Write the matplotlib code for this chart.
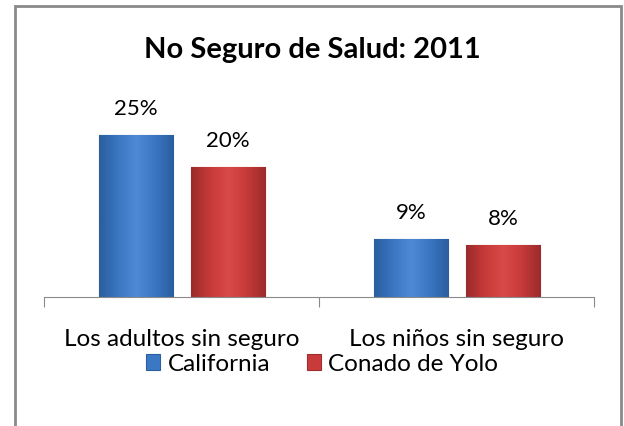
import numpy as np
import matplotlib
matplotlib.use("Agg")
import matplotlib.pyplot as plt
from matplotlib.patches import Rectangle
from matplotlib.colors import LinearSegmentedColormap

categories = ["Los adultos sin seguro", "Los niños sin seguro"]
series = ["California", "Conado de Yolo"]
california = [0.25, 0.09]
yolo = [0.20, 0.08]
labels_ca = ["25%", "9%"]
labels_yolo = ["20%", "8%"]

plt.rcParams['font.family'] = ['Lato', 'DejaVu Sans']

W, H = 624, 427
fig = plt.figure(figsize=(W / 100, H / 100), dpi=100)

# outer frame (bottom edge falls outside the picture)
fig.patches.append(Rectangle((15 / W, -0.05), (621 - 15) / W, (H - 7) / H + 0.05,
                             transform=fig.transFigure, fill=False,
                             edgecolor="#8a8a8a", linewidth=2))

ax = fig.add_axes([44 / W, (H - 298) / H, 550 / W, 195 / H])

x = np.arange(len(categories))
w = 0.27
b1 = ax.bar(x - 0.165, california, w, color="#3b78c4", edgecolor="#2d5f9e", linewidth=0.8, label=series[0])
b2 = ax.bar(x + 0.17, yolo, w, color="#c93b3b", edgecolor="#9e2d2d", linewidth=0.8, label=series[1])

# gradient shading inside each bar
def shade(bars, light, base, dark):
    cmap = LinearSegmentedColormap.from_list("g", [dark, base, light, base, dark])
    grad = np.linspace(0, 1, 64).reshape(1, -1)
    for b in bars:
        x0, y0 = b.get_x(), b.get_y()
        im = ax.imshow(grad, cmap=cmap, aspect="auto", extent=(x0, x0 + b.get_width(), y0, y0 + b.get_height()),
                       zorder=b.get_zorder() + 0.1)
        im.set_clip_path(b)

shade(b1, "#4f8ad6", "#3a76c2", "#2b5e9f")
shade(b2, "#d84a48", "#c63a39", "#9c2b2b")
ax.set_xlim(-0.5, 1.5)
ax.set_ylim(0, 0.30)

for bars, labs in [(b1, labels_ca), (b2, labels_yolo)]:
    for b, t in zip(bars, labs):
        ax.annotate(t, (b.get_x() + b.get_width() / 2, b.get_height()), xytext=(0, 12),
                    textcoords="offset points", ha="center", va="bottom", fontsize=16)

for s in ["top", "left", "right"]:
    ax.spines[s].set_visible(False)
ax.spines["bottom"].set_color("#8a8a8a")
ax.set_yticks([])
ax.set_xticks([-0.5, 0.5, 1.5])
ax.set_xticklabels([])
ax.tick_params(axis="x", length=7, color="#8a8a8a", direction="out")
for xi, c in zip(x, categories):
    ax.annotate(c, (xi, 0), xytext=(0, -42 * 0.72), textcoords="offset points",
                ha="center", va="center", fontsize=17.5)

fig.text(0.5, (H - 50) / H, "No Seguro de Salud: 2011", ha="center", va="center",
         fontsize=21, fontweight="bold")

fig.legend(handles=[b1, b2], labels=series, loc="center", bbox_to_anchor=(322 / W, (H - 365) / H),
           ncol=2, frameon=False, fontsize=17.5, handlelength=0.6, handleheight=0.6,
           handletextpad=0.3, columnspacing=1.5)

fig.savefig("out.png", dpi=100)
